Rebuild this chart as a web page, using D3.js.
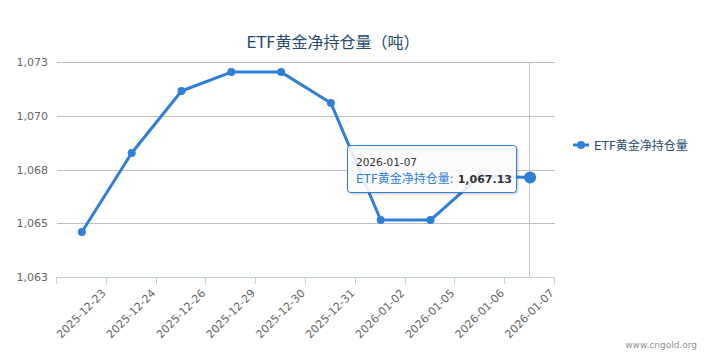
<!DOCTYPE html>
<html><head><meta charset="utf-8">
<script src="https://cdn.jsdelivr.net/npm/d3@7/dist/d3.min.js"></script>
<style>
html,body{margin:0;padding:0;background:#fff;}
svg{display:block;font-family:"DejaVu Sans","Noto Sans CJK SC",sans-serif;}
</style></head>
<body><svg id="c" width="716" height="359"></svg>
<script>
const categories = ["2025-12-23","2025-12-24","2025-12-26","2025-12-29","2025-12-30","2025-12-31","2026-01-02","2026-01-05","2026-01-06","2026-01-07"];
const values = [1064.59, 1068.27, 1071.15, 1072.03, 1072.03, 1070.59, 1065.15, 1065.15, 1067.20, 1067.13];
const yTickValues = [1062.5, 1065, 1067.5, 1070, 1072.5];
const yTickLabels = ["1,063", "1,065", "1,068", "1,070", "1,073"];
const seriesName = "ETF黄金净持仓量";
const titleText = "ETF黄金净持仓量（吨）";
const hoverIndex = 9;

const color = "#2f7ed8";
const svg = d3.select("#c");
const L = 57, R = 555, T = 62, B = 277;
const x = d3.scaleBand().domain(categories).range([L, R]).padding(0);
const y = d3.scaleLinear().domain([1062.5, 1072.5]).range([B, T]);

// title
svg.append("text").attr("x", 333).attr("y", 48).attr("text-anchor", "middle")
  .attr("fill", "#274b6d").style("font-size", "16px").text(titleText);

// grid
const yAxis = d3.axisLeft(y).tickValues(yTickValues).tickSize(0)
  .tickFormat((d, i) => yTickLabels[i]);
const gy = svg.append("g").attr("transform", `translate(${L},0)`).call(yAxis);
gy.select(".domain").remove();
gy.selectAll("text").attr("x", -9).attr("fill", "#666").style("font-size", "11px")
  .style("font-family", "DejaVu Sans");
svg.append("g").selectAll("line").data(yTickValues.slice(1)).join("line")
  .attr("x1", L).attr("x2", R)
  .attr("y1", d => Math.round(y(d)) + 0.5).attr("y2", d => Math.round(y(d)) + 0.5)
  .attr("stroke", "#c0c0c0").attr("stroke-width", 1);

// crosshair
const cx = x(categories[hoverIndex]) + x.bandwidth() / 2;
svg.append("line").attr("x1", Math.round(cx) - 0.5).attr("x2", Math.round(cx) - 0.5)
  .attr("y1", T).attr("y2", B).attr("stroke", "#c0c0c0").attr("stroke-width", 1);

// x axis
const edges = categories.map(c => x(c)).concat([R]);
const gx = svg.append("g");
gx.append("line").attr("x1", L).attr("x2", R).attr("y1", B + 0.5).attr("y2", B + 0.5)
  .attr("stroke", "#c0d0e0").attr("stroke-width", 1);
gx.selectAll("line.tk").data(edges).join("line").attr("class", "tk")
  .attr("x1", d => Math.round(d) - 0.5).attr("x2", d => Math.round(d) - 0.5)
  .attr("y1", B).attr("y2", B + 7).attr("stroke", "#c0d0e0");
gx.selectAll("text").data(categories).join("text")
  .attr("transform", d => `translate(${x(d) + x.bandwidth() - 3},${B + 14}) rotate(-45)`)
  .attr("text-anchor", "end").attr("dy", "0.35em")
  .attr("fill", "#666").style("font-size", "11px").style("font-family", "DejaVu Sans")
  .text(d => d);

// line
const line = d3.line().x((d, i) => x(categories[i]) + x.bandwidth() / 2).y(d => y(d));
svg.append("path").datum(values).attr("d", line).attr("fill", "none")
  .attr("stroke", color).attr("stroke-width", 3).attr("stroke-linejoin", "round");
svg.append("g").selectAll("circle").data(values).join("circle")
  .attr("cx", (d, i) => x(categories[i]) + x.bandwidth() / 2).attr("cy", d => y(d))
  .attr("r", (d, i) => i === hoverIndex ? 6 : 4).attr("fill", color);

// legend
const lg = svg.append("g").attr("transform", "translate(573,145)");
lg.append("line").attr("x1", 0).attr("x2", 16).attr("y1", 0).attr("y2", 0)
  .attr("stroke", color).attr("stroke-width", 3);
lg.append("circle").attr("cx", 8).attr("cy", 0).attr("r", 4).attr("fill", color);
lg.append("text").attr("x", 21).attr("y", 4.5).attr("fill", "#274b6d")
  .style("font-size", "12px").text(seriesName);

// tooltip
const defs = svg.append("defs");
const f = defs.append("filter").attr("id", "sh").attr("x", "-10%").attr("y", "-10%").attr("width", "130%").attr("height", "140%");
f.append("feDropShadow").attr("dx", 1).attr("dy", 1).attr("stdDeviation", 1.2).attr("flood-color", "#000").attr("flood-opacity", 0.25);
const tt = svg.append("g").attr("transform", "translate(347.5,145.5)");
tt.append("rect").attr("width", 169).attr("height", 47).attr("rx", 3)
  .attr("fill", "rgba(255,255,255,0.85)").attr("stroke", color).attr("stroke-width", 1)
  .attr("filter", "url(#sh)");
tt.append("text").attr("x", 8.5).attr("y", 20.5).attr("fill", "#333")
  .style("font-size", "10.5px").text(categories[hoverIndex]);
const t2 = tt.append("text").attr("x", 8.5).attr("y", 37).style("font-size", "12px");
t2.append("tspan").attr("fill", color).text(seriesName + ": ");
t2.append("tspan").attr("fill", "#333").style("font-weight", "bold").style("font-size", "11px")
  .text(d3.format(",.2f")(values[hoverIndex]));

// credit
svg.append("text").attr("x", 697).attr("y", 348).attr("text-anchor", "end")
  .attr("fill", "#909090").style("font-size", "9px").text("www.cngold.org");
</script></body></html>
